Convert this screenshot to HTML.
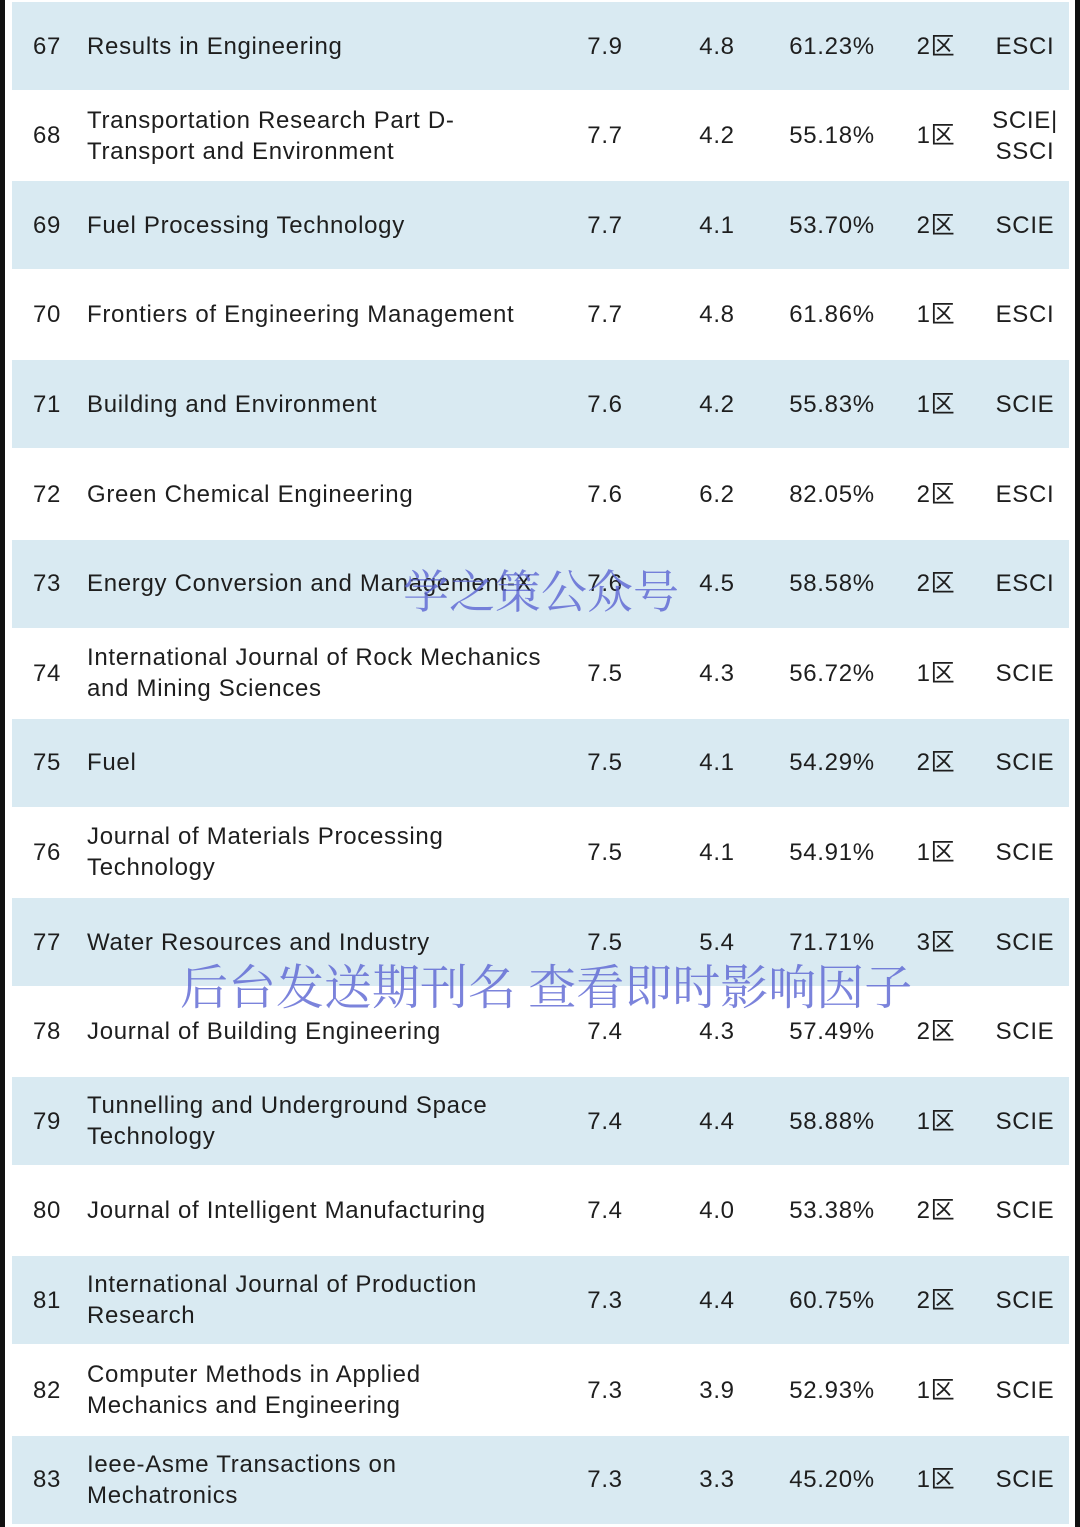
<!DOCTYPE html>
<html><head><meta charset="utf-8">
<style>
body{margin:0;width:1080px;height:1527px;background:#fff;position:relative;overflow:hidden;font-family:"Liberation Sans","Noto Sans CJK SC",sans-serif;color:#1e1e1e}
.lb{position:absolute;left:0;top:0;width:5px;height:1527px;background:#111}
.rb{position:absolute;left:1075px;top:0;width:5px;height:1527px;background:#111}
.row{position:absolute;left:12px;width:1057px;height:88px}
.row.b{background:#d9eaf2}
.c{position:absolute;top:0;height:88px;display:flex;align-items:center;font-size:24px;line-height:31px;letter-spacing:0.7px}
.n{left:21px}
.t{left:75px;width:480px}
.ctr{justify-content:center;text-align:center}
.wm{position:absolute;font-family:"Noto Serif CJK SC",serif;color:rgba(90,100,210,0.8);white-space:nowrap}
</style></head><body>
<div class="lb"></div>
<div class="rb"></div>
<div id="tbl"></div>
<div class="wm" style="left:403px;top:556px;font-size:46px">学之策公众号</div>
<div class="wm" style="left:180px;top:949px;font-size:48px">后台发送期刊名 查看即时影响因子</div>
<script>
const ranks=[67,68,69,70,71,72,73,74,75,76,77,78,79,80,81,82,83];
const names=["Results in Engineering","Transportation Research Part D-<br>Transport and Environment","Fuel Processing Technology","Frontiers of Engineering Management","Building and Environment","Green Chemical Engineering","Energy Conversion and Management-X","International Journal of Rock Mechanics<br>and Mining Sciences","Fuel","Journal of Materials Processing<br>Technology","Water Resources and Industry","Journal of Building Engineering","Tunnelling and Underground Space<br>Technology","Journal of Intelligent Manufacturing","International Journal of Production<br>Research","Computer Methods in Applied<br>Mechanics and Engineering","Ieee-Asme Transactions on<br>Mechatronics"];
const citeScore=["7.9","7.7","7.7","7.7","7.6","7.6","7.6","7.5","7.5","7.5","7.5","7.4","7.4","7.4","7.3","7.3","7.3"];
const impact=["4.8","4.2","4.1","4.8","4.2","6.2","4.5","4.3","4.1","4.1","5.4","4.3","4.4","4.0","4.4","3.9","3.3"];
const ratio=["61.23%","55.18%","53.70%","61.86%","55.83%","82.05%","58.58%","56.72%","54.29%","54.91%","71.71%","57.49%","58.88%","53.38%","60.75%","52.93%","45.20%"];
const zone=["2区","1区","2区","1区","1区","2区","2区","1区","2区","1区","3区","2区","1区","2区","2区","1区","1区"];
const index=["ESCI","SCIE|<br>SSCI","SCIE","ESCI","SCIE","ESCI","ESCI","SCIE","SCIE","SCIE","SCIE","SCIE","SCIE","SCIE","SCIE","SCIE","SCIE"];
const tbl=document.getElementById('tbl');
const cols=[[citeScore,605,'cite-score'],[impact,717,'impact-factor'],[ratio,832,'percentile'],[zone,936,'zone'],[index,1025,'index']];
ranks.forEach((r,i)=>{
  const row=document.createElement('div');
  row.className='row'+(i%2===0?' b':'');
  row.style.top=(46+i*89.6-44)+'px';
  
  
  let h='<div class="c n">'+r+'</div>';
  h+='<div class="c t"><span>'+names[i]+'</span></div>';
  cols.forEach(([arr,cx,nm])=>{
    h+='<div class="c ctr" style="left:'+(cx-12-60)+'px;width:120px"><span>'+arr[i]+'</span></div>';
  });
  row.innerHTML=h;
  tbl.appendChild(row);
});
</script>
</body></html>
